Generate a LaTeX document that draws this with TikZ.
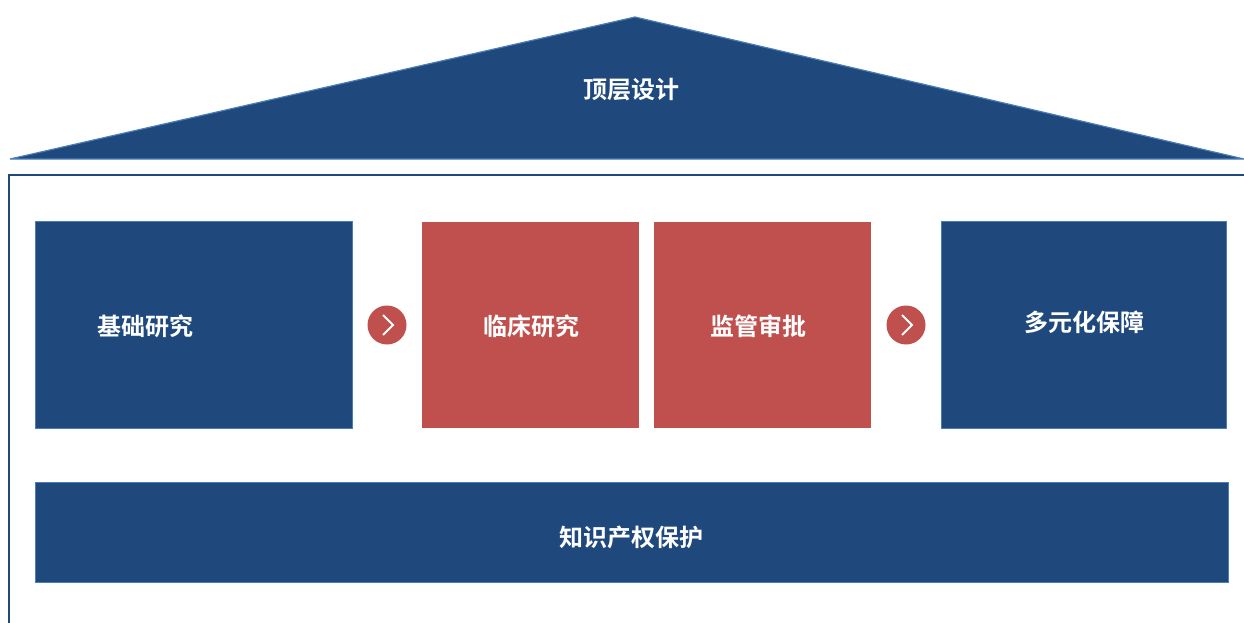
\documentclass[tikz,border=0pt]{standalone}
\usepackage{fontspec}
\newfontfamily\cjk{Noto Sans CJK SC}[BoldFont={Noto Sans CJK SC Bold}]
\definecolor{navy}{HTML}{1F497D}
\definecolor{edgeblue}{HTML}{4A7EBB}
\definecolor{brick}{HTML}{C0504D}
\begin{document}
\begin{tikzpicture}[x=1pt,y=-1pt,
  bluebox/.style={fill=navy,draw=edgeblue,line width=1pt},
  lbl/.style={text=white,font=\cjk\bfseries\fontsize{24}{28}\selectfont},
  chev/.style={draw=white,line width=2pt}]
\useasboundingbox (0,0) rectangle (1244,623);
% roof
\filldraw[fill=navy,draw=edgeblue,line width=1.2pt,line join=bevel] (10,159) coordinate (rl) -- (635,17) coordinate (ra) -- (1244,159) coordinate (rr) -- cycle;
\node[lbl] (roof) at (631,90) {顶层设计};
% frame
\draw[navy,line width=2pt] (1244,175) coordinate (ft) -- (9,175) coordinate (fc) -- (9,623) coordinate (fb);
% boxes
\draw[bluebox] (35,221) rectangle (352,428);
\node[lbl] (jc) at (145,326) {基础研究};
\fill[brick] (422,222) rectangle (639,428);
\node[lbl] (lc) at (531,326) {临床研究};
\fill[brick] (654,222) rectangle (871,428);
\node[lbl] (jg) at (758,326) {监管审批};
\draw[bluebox] (941,221) rectangle (1226,428);
\node[lbl] (dy) at (1084,322) {多元化保障};
\draw[bluebox] (35,482) rectangle (1228,582);
\node[lbl] (zs) at (631,537) {知识产权保护};
% chevron circles
\node[circle,fill=brick,minimum size=39pt,inner sep=0pt] (c1) at (387,325) {};
\draw[chev] (383,315) -- (393,325) -- (383,335);
\node[circle,fill=brick,minimum size=39pt,inner sep=0pt] (c2) at (906,325) {};
\draw[chev] (902,315) -- (912,325) -- (902,335);
\end{tikzpicture}
\end{document}
